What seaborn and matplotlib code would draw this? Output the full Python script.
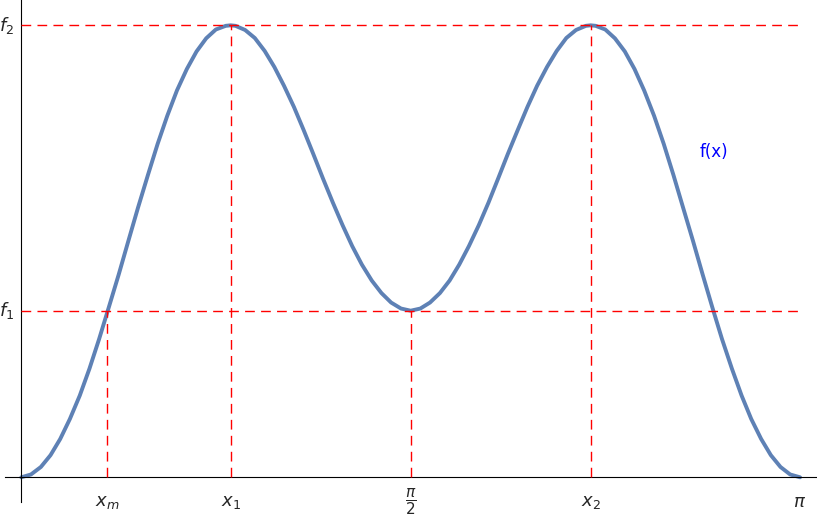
import numpy as np
import pandas as pd
import matplotlib.pyplot as plt
import seaborn as sns

# curve (x in radians, f scaled so that f1 = 1)
x_vals = [0.000, 0.039, 0.079, 0.118, 0.157, 0.196, 0.236, 0.275, 0.314,
          0.353, 0.393, 0.432, 0.471, 0.511, 0.550, 0.589, 0.628, 0.668,
          0.707, 0.746, 0.785, 0.825, 0.845, 0.864, 0.903, 0.942, 0.982,
          1.021, 1.060, 1.100, 1.139, 1.178, 1.217, 1.257, 1.296, 1.335,
          1.374, 1.414, 1.453, 1.492, 1.532, 1.571,
          1.610, 1.649, 1.689, 1.728, 1.767, 1.806, 1.846, 1.885, 1.924,
          1.963, 2.003, 2.042, 2.081, 2.121, 2.160, 2.199, 2.238, 2.278,
          2.297, 2.317, 2.356, 2.395, 2.435, 2.474, 2.513, 2.553, 2.592,
          2.631, 2.670, 2.710, 2.749, 2.788, 2.827, 2.867, 2.906, 2.945,
          2.985, 3.024, 3.063, 3.102, 3.142]
f_vals = [0.000, 0.017, 0.062, 0.133, 0.230, 0.350, 0.491, 0.652, 0.830,
          1.020, 1.217, 1.419, 1.619, 1.815, 2.001, 2.170, 2.322, 2.451,
          2.556, 2.635, 2.688, 2.710, 2.713, 2.710, 2.685, 2.637, 2.559,
          2.463, 2.350, 2.223, 2.085, 1.941, 1.794, 1.649, 1.514, 1.388,
          1.277, 1.181, 1.106, 1.049, 1.013, 1.000,
          1.013, 1.049, 1.106, 1.181, 1.277, 1.388, 1.514, 1.649, 1.794,
          1.941, 2.085, 2.223, 2.350, 2.463, 2.559, 2.637, 2.685, 2.710,
          2.713, 2.710, 2.688, 2.635, 2.556, 2.451, 2.322, 2.170, 2.001,
          1.815, 1.619, 1.419, 1.217, 1.020, 0.830, 0.652, 0.491, 0.350,
          0.230, 0.133, 0.062, 0.017, 0.000]

# marked points
x_marks = [0.345, 0.845, np.pi / 2, 2.297]
x_mark_tops = [1.000, 2.713, 1.000, 2.713]
f_levels = [1.000, 2.713]
x_ticks = [0.345, 0.845, np.pi / 2, 2.297, np.pi]
x_tick_labels = ['$x_m$', '$x_1$', r'$\dfrac{\pi}{2}$', '$x_2$', r'$\pi$']
y_tick_labels = ['$f_1$', '$f_2$']

df = pd.DataFrame({'x': x_vals, 'f': f_vals})

sns.set_style('white')
fig = plt.figure(figsize=(8.17, 5.22), dpi=100)
ax = fig.add_axes([0, 0, 1, 1])

sns.lineplot(data=df, x='x', y='f', color='#5E81B5', linewidth=2.8,
             estimator=None, sort=False, ax=ax, zorder=2,
             solid_joinstyle='round', solid_capstyle='round')

dash = dict(colors='#FF0000', linewidth=1.0, linestyles=(0, (7, 4.5)), zorder=3)
ax.hlines(f_levels, 0, np.pi, **dash)
ax.vlines(x_marks, 0, x_mark_tops, **dash)

ax.text(2.795, 1.953, 'f(x)', color='#0000FF', fontsize=12,
        ha='center', va='center')

ax.set_xlim(-0.0859, 3.2103)
ax.set_ylim(-0.2683, 2.865)
ax.set_xlabel('')
ax.set_ylabel('')

for side in ['top', 'right']:
    ax.spines[side].set_visible(False)
ax.spines['left'].set_position(('data', 0))
ax.spines['bottom'].set_position(('data', 0))
ax.spines['left'].set_bounds(-0.148, 2.865)
ax.spines['bottom'].set_bounds(-0.0658, 3.2103)
for side in ['left', 'bottom']:
    ax.spines[side].set_color('black')
    ax.spines[side].set_linewidth(0.8)

ax.set_xticks(x_ticks, x_tick_labels)
ax.set_yticks(f_levels, y_tick_labels)
ax.tick_params(axis='both', direction='in', length=4, width=0.8,
               color='black', labelsize=13)
ax.tick_params(axis='x', pad=18)
ax.tick_params(axis='y', pad=5)
for lbl in ax.get_xticklabels():
    lbl.set_va('center')
ax.get_xticklabels()[2].set_fontsize(11)
for lbl in ax.get_yticklabels():
    lbl.set_va('center')

fig.savefig('out.png', dpi=100)
